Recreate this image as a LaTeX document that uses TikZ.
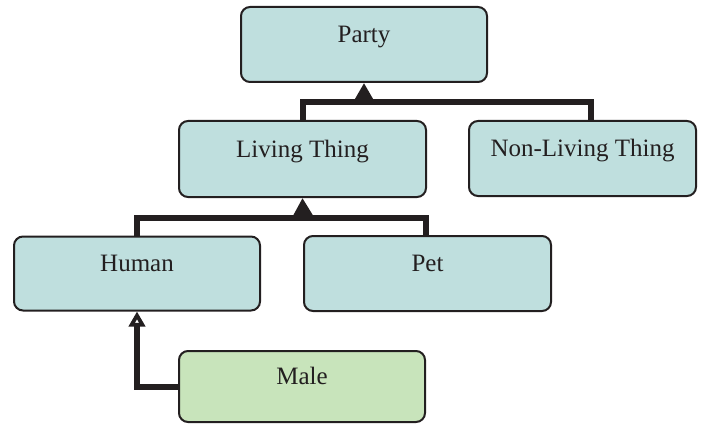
\documentclass[tikz,border=0pt]{standalone}
\usepackage{fontspec}
\setmainfont{Liberation Serif}
\usetikzlibrary{arrows.meta}
\definecolor{boxblue}{RGB}{191,223,222}
\definecolor{boxgreen}{RGB}{200,228,187}
\definecolor{ink}{RGB}{35,31,32}
\begin{document}
\begin{tikzpicture}[x=1pt,y=-1pt,
  classbox/.style={draw=ink, line width=2pt, rounded corners=9pt, fill=boxblue,
    font=\fontsize{25}{30}\selectfont, text=ink,
    text height=18pt, text depth=22pt, inner sep=0pt},
  conn/.style={draw=ink, line width=6pt, line join=miter},
  solidtip/.style={-{Triangle[length=17pt,width=18pt]}},
  opentip/.style={-{Triangle[open,length=15pt,width=16pt,line width=4.5pt]}}]
  \useasboundingbox (0,0) rectangle (706,425);

  % class boxes
  \node[classbox, minimum width=246pt, minimum height=75pt] (party) at (364,44.5) {Party};
  \node[classbox, minimum width=247pt, minimum height=76pt] (living) at (302.5,159) {Living Thing};
  \node[classbox, minimum width=227pt, minimum height=75pt] (nonliving) at (582.5,158.5) {Non-Living Thing};
  \node[classbox, minimum width=246pt, minimum height=74pt] (human) at (137,273.5) {Human};
  \node[classbox, minimum width=247pt, minimum height=75pt] (pet) at (427.5,273.5) {Pet};
  \node[classbox, fill=boxgreen, minimum width=246pt, minimum height=71pt] (male) at (302,386.5) {Male};

  % junction points of the generalisation lines
  \coordinate (j1) at (364,102);
  \coordinate (n1) at (591,120);
  \coordinate (j2) at (303,217.5);
  \coordinate (p1) at (426,235);

  % Living Thing / Non-Living Thing -> Party
  \draw[conn] (living.north) |- (j1);
  \draw[conn] (n1) |- (j1);
  \draw[conn, solidtip] (j1) -- (party.south);

  % Human / Pet -> Living Thing
  \draw[conn] (human.north) |- (j2);
  \draw[conn] (p1) |- (j2);
  \draw[conn, solidtip] (j2) -- (living.south);

  % Male -> Human
  \draw[conn, opentip] (male.west) -| (human.south);
\end{tikzpicture}
\end{document}
